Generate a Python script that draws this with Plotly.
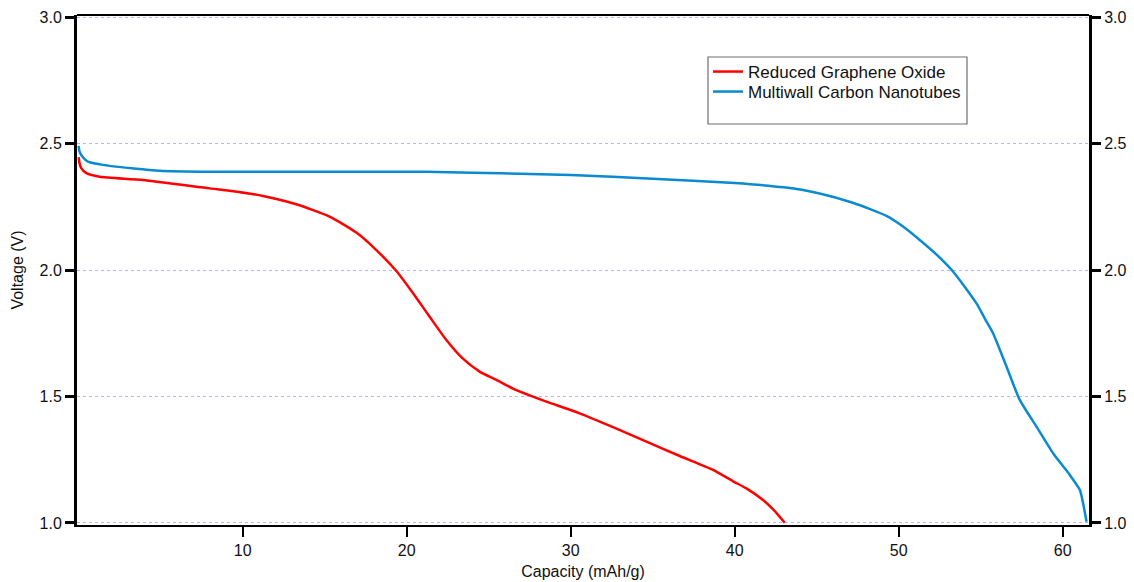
import plotly.graph_objects as go

# ---- data ----
rgo_capacity = [0, 0.05, 0.16, 0.47, 1.28, 3.92, 7.99, 9.2, 11.24, 13.27, 15.3, 16.93,
                18.15, 19.37, 20.39, 21.4, 22.42, 23.43, 24.45, 25.47, 26.48, 27.5,
                28.52, 30.55, 32.58, 34.62, 36.65, 38.68, 39.9, 40.71, 41.73, 42.4, 43.05]
rgo_voltage = [2.447, 2.425, 2.404, 2.384, 2.370, 2.357, 2.324, 2.315, 2.294, 2.261, 2.212, 2.149,
               2.080, 1.997, 1.909, 1.816, 1.724, 1.650, 1.599, 1.566, 1.532, 1.505,
               1.480, 1.434, 1.379, 1.322, 1.265, 1.210, 1.165, 1.137, 1.091, 1.050, 1.001]

mwcnt_capacity = [0, 0.05, 0.22, 0.57, 1.89, 4.94, 7.99, 15, 21.2, 24, 27.5, 30, 35, 40, 43,
                  45.18, 47.2, 49.25, 50.26, 51.28, 52.29, 53.31, 54.74, 55.24, 55.75, 56.57,
                  57.38, 58.4, 59.41, 60.43, 61.04, 61.24, 61.45]
mwcnt_voltage = [2.492, 2.470, 2.450, 2.430, 2.413, 2.394, 2.390, 2.390, 2.390, 2.386, 2.381,
                 2.377, 2.362, 2.345, 2.328, 2.304, 2.267, 2.215, 2.173, 2.120, 2.063, 1.995,
                 1.869, 1.810, 1.751, 1.619, 1.487, 1.381, 1.276, 1.190, 1.131, 1.078, 1.005]

series_names = ["Reduced Graphene Oxide", "Multiwall Carbon Nanotubes"]
series_colors = ["#ff0000", "#0a8ad0"]

x_ticks = [10, 20, 30, 40, 50, 60]
y_ticks = [1.0, 1.5, 2.0, 2.5, 3.0]
y_ticklabels = ["1.0", "1.5", "2.0", "2.5", "3.0"]

FONT = "Arial, 'Liberation Sans', sans-serif"

fig = go.Figure()
fig.add_trace(go.Scatter(x=rgo_capacity, y=rgo_voltage, mode="lines", name=series_names[0],
                         line=dict(color=series_colors[0], width=2.5, shape="spline", smoothing=0.6),
                         legend="legend"))
fig.add_trace(go.Scatter(x=mwcnt_capacity, y=mwcnt_voltage, mode="lines", name=series_names[1],
                         line=dict(color=series_colors[1], width=2.5, shape="spline", smoothing=0.6),
                         legend="legend2"))
# invisible trace to anchor the right-hand axis
fig.add_trace(go.Scatter(x=[None], y=[None], yaxis="y2", showlegend=False, hoverinfo="skip"))

W, H = 1134, 582
ml, mr, mt, mb = 77, 45, 15, 57
pw, ph = W - ml - mr, H - mt - mb

def px_x(p):
    return (p - ml) / pw

def px_y(p):
    return (H - mb - p) / ph

yr = [0.992, 3.01]

legend_common = dict(xanchor="left", yanchor="top", bgcolor="rgba(0,0,0,0)", borderwidth=0,
                     font=dict(size=17, color="#111111"), itemwidth=30)

fig.update_layout(
    width=W, height=H,
    margin=dict(l=ml, r=mr, t=mt, b=mb, pad=0, autoexpand=False),
    paper_bgcolor="white", plot_bgcolor="white",
    font=dict(family=FONT, size=16, color="#111111"),
    showlegend=True,
    legend=dict(x=px_x(708), y=px_y(54), **legend_common),
    legend2=dict(x=px_x(708), y=px_y(74), **legend_common),
    xaxis=dict(range=[-0.1, 61.6], tickvals=x_ticks, showgrid=False, zeroline=False,
               automargin=False,
               showline=True, linecolor="black", linewidth=2,
               ticks="outside", ticklen=10, tickwidth=2, tickcolor="black",
               tickfont=dict(size=16),
               title=dict(text="Capacity (mAh/g)", font=dict(size=16), standoff=8)),
    yaxis=dict(range=yr, tickvals=y_ticks, ticktext=y_ticklabels, zeroline=False,
               automargin=False,
               showgrid=True, gridcolor="#b4b4f6", gridwidth=1, griddash="dot",
               showline=True, linecolor="black", linewidth=3,
               ticks="outside", ticklen=9, tickwidth=3, tickcolor="black",
               tickfont=dict(size=16),
               title=dict(text="Voltage (V)", font=dict(size=16), standoff=12)),
    yaxis2=dict(range=yr, tickvals=y_ticks, ticktext=y_ticklabels, overlaying="y", side="right",
                showgrid=False, zeroline=False, automargin=False,
                showline=True, linecolor="black", linewidth=3,
                ticks="outside", ticklen=9, tickwidth=3, tickcolor="black",
                tickfont=dict(size=16)),
    shapes=[
        dict(type="line", xref="paper", yref="paper", x0=0, x1=1, y0=1, y1=1,
             line=dict(color="black", width=2)),
        dict(type="rect", xref="paper", yref="paper",
             x0=px_x(708), x1=px_x(967), y0=px_y(124), y1=px_y(57),
             line=dict(color="#6e6e6e", width=1.2), fillcolor="rgba(0,0,0,0)"),
    ],
)

fig.write_html("out.html")
